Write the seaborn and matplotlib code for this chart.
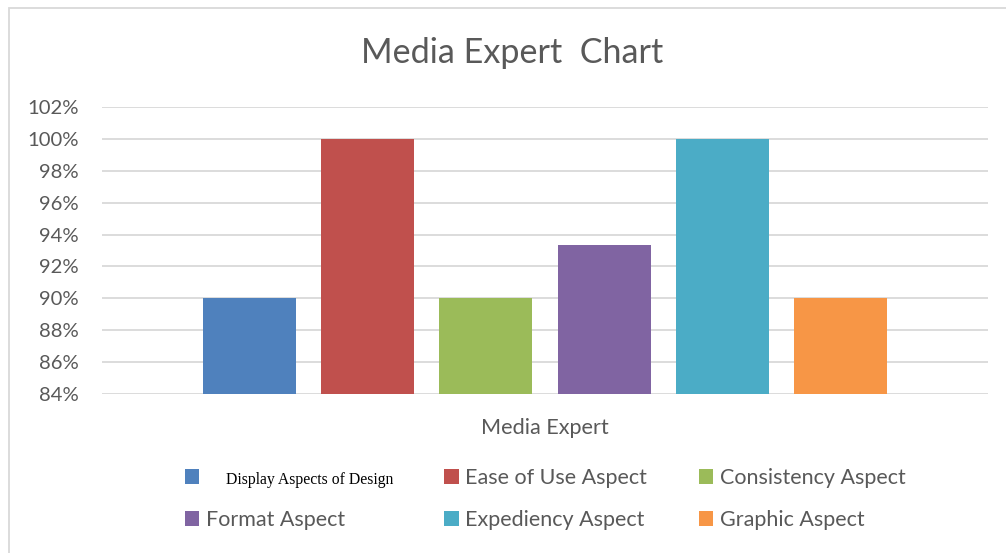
import matplotlib
matplotlib.use("Agg")
import matplotlib.pyplot as plt
import seaborn as sns
import pandas as pd
from matplotlib.patches import Patch, Rectangle
from matplotlib.ticker import FuncFormatter

# data
aspects = ["Display Aspects of Design", "Ease of Use Aspect", "Consistency Aspect",
           "Format Aspect", "Expediency Aspect", "Graphic Aspect"]
scores = [90, 100, 90, 93.33, 100, 90]
colors = ["#4F81BD", "#C0504D", "#9BBB59", "#8064A2", "#4BACC6", "#F79646"]
y_ticks = [84, 86, 88, 90, 92, 94, 96, 98, 100, 102]

sns.set_theme(style="white")
plt.rcParams["font.family"] = ["Lato", "DejaVu Sans"]
text_grey = "#595959"

W, H = 1006, 553
fig = plt.figure(figsize=(W / 100, H / 100), dpi=100)
ax = fig.add_axes([102 / W, 1 - 394 / H, (988 - 102) / W, (394 - 107) / H])

df = pd.DataFrame({"aspect": aspects, "score": scores})
sns.barplot(data=df, x="aspect", y="score", hue="aspect", palette=colors,
            saturation=1, linewidth=0, width=0.788, legend=False, ax=ax, zorder=3)

ax.set_ylim(84, 102)
ax.set_xlim(-1.25, len(aspects) - 1 + 1.25)
ax.set_yticks(y_ticks)
ax.yaxis.set_major_formatter(FuncFormatter(lambda v, p: f"{v:.0f}%"))
ax.tick_params(axis="y", labelsize=14.6, labelcolor=text_grey, length=0, pad=17)
ax.set_xticks([])
ax.grid(axis="y", color="#d9d9d9", linewidth=1.3, zorder=0)
for s in ax.spines.values():
    s.set_visible(False)
ax.set_ylabel("")
ax.set_xlabel("Media Expert", fontsize=15.6, color=text_grey, labelpad=17)

fig.text(512 / W, 1 - 53 / H, "Media Expert  Chart", ha="center", va="center",
         fontsize=24.6, color=text_grey)

# legend, filled column-wise so rows read like the original
order = [0, 3, 1, 4, 2, 5]
handles = [Patch(facecolor=colors[i], edgecolor="none") for i in order]
labels = ["     " + aspects[0] if i == 0 else aspects[i] for i in order]
leg = fig.legend(handles, labels, ncol=3, loc="center",
                 bbox_to_anchor=(545 / W, 1 - 499 / H), frameon=False,
                 fontsize=15.5, handlelength=0.68, handleheight=0.68,
                 handletextpad=0.3, columnspacing=2.38, labelspacing=1.05)
for t in leg.get_texts():
    t.set_color(text_grey)
t0 = leg.get_texts()[0]
t0.set_fontfamily(["Liberation Serif", "DejaVu Serif"])
t0.set_fontsize(11.3)
t0.set_color("black")

# light chart border along top and left
fig.patches.append(Rectangle((8.5 / W, -0.1), 1.2, 1 - 8.5 / H + 0.1,
                             transform=fig.transFigure, fill=False,
                             edgecolor="#d9d9d9", linewidth=1.3))

fig.savefig("out.png", dpi=100)
